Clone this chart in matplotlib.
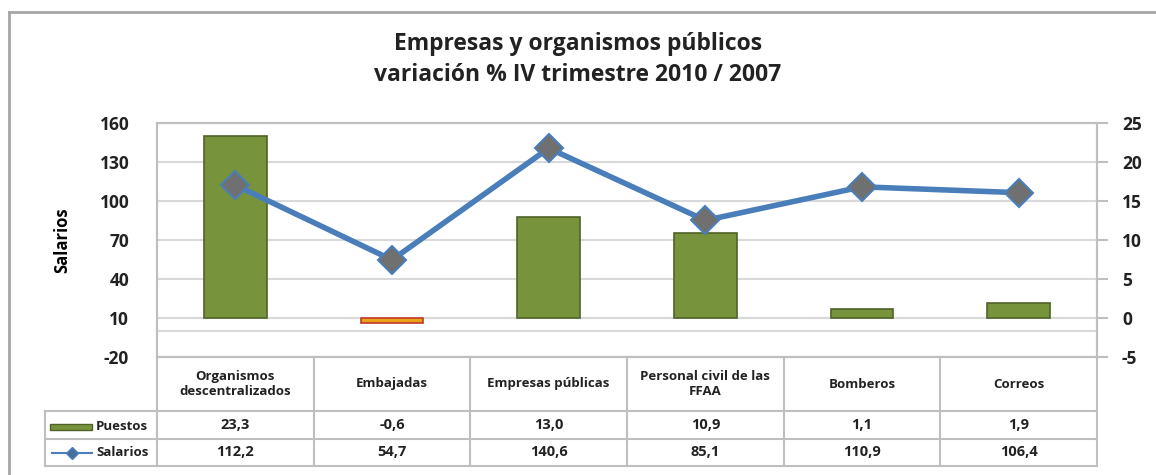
import matplotlib
matplotlib.use("Agg")
import matplotlib.pyplot as plt
from matplotlib.lines import Line2D
from matplotlib.patches import Rectangle
import matplotlib.transforms as mtransforms
import numpy as np

# datos
categorias = ["Organismos\ndescentralizados", "Embajadas", "Empresas públicas",
              "Personal civil de las\nFFAA", "Bomberos", "Correos"]
puestos = [23.3, -0.6, 13.0, 10.9, 1.1, 1.9]
salarios = [112.2, 54.7, 140.6, 85.1, 110.9, 106.4]
ticks_izq = [-20, 10, 40, 70, 100, 130, 160]
ticks_der = [-5, 0, 5, 10, 15, 20, 25]

plt.rcParams['font.family'] = ['Open Sans', 'DejaVu Sans']
plt.rcParams['font.weight'] = 'bold'
plt.rcParams['axes.unicode_minus'] = False

W, H = 1156, 475
fig = plt.figure(figsize=(W / 100, H / 100), dpi=100)
fig.patch.set_facecolor('white')

L, R, T, B = 157, 1097, 123, 357
ax = fig.add_axes([L / W, 1 - B / H, (R - L) / W, (B - T) / H])
ax2 = ax.twinx()

x = np.arange(len(categorias))
gris = '#BFBFBF'

# barras (eje derecho)
colores = ['#77933C' if v >= 0 else '#E8A317' for v in puestos]
bordes = ['#4F6228' if v >= 0 else '#C0392B' for v in puestos]
ax2.bar(x, puestos, width=0.4, color=colores, edgecolor=bordes, linewidth=1.2, zorder=3)
ax2.set_ylim(-5, 25)
ax2.set_yticks(ticks_der)
ax2.grid(axis='y', color='#D9D9D9', linewidth=1.5, zorder=0)
ax2.set_axisbelow(True)

# linea (eje izquierdo, encima)
ax.set_zorder(ax2.get_zorder() + 1)
ax.patch.set_visible(False)
ax.plot(x, salarios, color='#4A7EBB', linewidth=4, marker='D', markersize=14,
        markerfacecolor='#707070', markeredgecolor='#4A7EBB', markeredgewidth=1.5, zorder=5)
ax.axhline(0, color='#D9D9D9', linewidth=1.5, zorder=1)
ax.set_ylim(-20, 160)
ax.set_yticks(ticks_izq)
ax.set_xlim(-0.5, len(categorias) - 0.5)
ax.set_xticks([])
ax.set_ylabel("Salarios", fontsize=12, fontweight='bold', labelpad=20)

for a in (ax, ax2):
    for s in a.spines.values():
        s.set_color(gris)
        s.set_linewidth(1.5)
    a.tick_params(labelsize=12.5, colors='#222222')
ax.tick_params(axis='y', length=0, pad=20)
ax2.tick_params(axis='y', length=8, width=1.5, color=gris, pad=10)
ax2.spines['right'].set_color(gris)

# titulo
fig.text(0.5, 1 - 44 / H, "Empresas y organismos públicos", ha='center', va='center',
         fontsize=16.5, fontweight='bold', color='#222222')
fig.text(0.5, 1 - 75 / H, "variación % IV trimestre 2010 / 2007", ha='center', va='center',
         fontsize=16.5, fontweight='bold', color='#222222')

# tabla de datos bajo el eje
tr = mtransforms.blended_transform_factory(ax.transData, ax.transAxes)
ph = B - T
y_head = -(411 - B) / ph
y_r1 = -(439 - B) / ph
y_r2 = -(466 - B) / ph
x_lab = (45 - L) / ((R - L) / len(categorias)) - 0.5
xr = len(categorias) - 0.5
lk = dict(color=gris, linewidth=1.5, transform=tr, clip_on=False)

for i in range(len(categorias) + 1):
    ax.add_line(Line2D([i - 0.5, i - 0.5], [0, y_r2], **lk))
for yy in (y_head, y_r1, y_r2):
    ax.add_line(Line2D([x_lab, xr], [yy, yy], **lk))
ax.add_line(Line2D([x_lab, x_lab], [y_head, y_r2], **lk))

tk = dict(transform=tr, ha='center', va='center', fontweight='bold', color='#222222', clip_on=False)
for i, c in enumerate(categorias):
    ax.text(i, y_head / 2, c, fontsize=9.5, linespacing=1.15, **tk)
    ax.text(i, (y_head + y_r1) / 2, f"{puestos[i]:.1f}".replace('.', ','), fontsize=10.5, **tk)
    ax.text(i, (y_r1 + y_r2) / 2, f"{salarios[i]:.1f}".replace('.', ','), fontsize=10.5, **tk)

# claves de leyenda
fig.add_artist(Rectangle((50 / W, 1 - 430 / H), 42 / W, 6 / H, transform=fig.transFigure,
                         facecolor='#77933C', edgecolor='#4F6228', linewidth=1))
fig.add_artist(Line2D([52 / W, 92 / W], [1 - 453 / H] * 2, transform=fig.transFigure,
                      color='#4A7EBB', linewidth=1.5))
fig.add_artist(Line2D([72 / W], [1 - 453 / H], transform=fig.transFigure,
                      color='#4A7EBB', marker='D', markersize=6,
                      markerfacecolor='#4A6E9B', markeredgecolor='#4A7EBB', linestyle='none'))
fig.text(96 / W, 1 - 426 / H, "Puestos", ha='left', va='center', fontsize=9.5,
         fontweight='bold', color='#222222')
fig.text(96 / W, 1 - 453 / H, "Salarios", ha='left', va='center', fontsize=9.5,
         fontweight='bold', color='#222222')

# marco exterior
fig.add_artist(Line2D([9 / W, 9 / W], [0, 1 - 12 / H], transform=fig.transFigure,
                      color='#A6A6A6', linewidth=2))
fig.add_artist(Line2D([9 / W, 1], [1 - 12 / H, 1 - 12 / H], transform=fig.transFigure,
                      color='#A6A6A6', linewidth=2))

fig.savefig("out.png", dpi=100)
